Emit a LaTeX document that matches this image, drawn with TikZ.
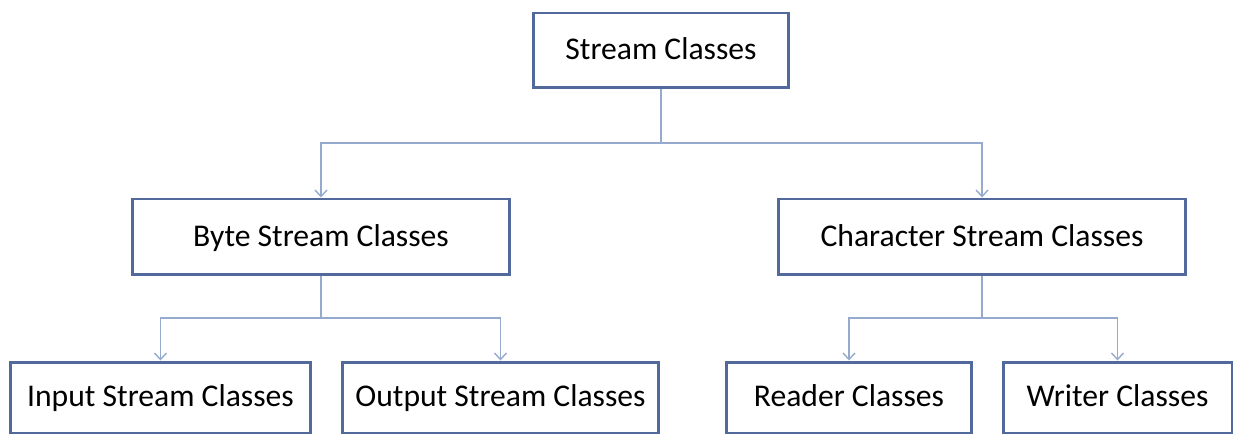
\documentclass[tikz,border=0pt]{standalone}
\usepackage{fontspec}
\setmainfont{Carlito}
\usetikzlibrary{arrows.meta}

\definecolor{boxline}{RGB}{82,106,155}
\definecolor{linkline}{RGB}{150,170,205}

\begin{document}
\begin{tikzpicture}[x=0.02cm,y=-0.02cm, semithick]
		 \tikzstyle{every node}=[draw=boxline,line width=1.7pt,fill=white,inner sep=0pt,text height=1.05em,text depth=0pt,font=\fontsize{18}{22}\selectfont]
		 \tikzstyle{link}=[draw=linkline,line width=0.8pt]
		 \tikzstyle{arr}=[link,-{Straight Barb[length=1.3mm,width=2.4mm]}]

		  \useasboundingbox (0,0) rectangle (1236,435);

		  \node (stream) [minimum width=5.12cm,minimum height=1.5cm] at (661,50.5) {Stream Classes};

		  \node (byte) [minimum width=7.56cm,minimum height=1.52cm] at (321,237) {Byte Stream Classes};
		  \node (char) [minimum width=8.14cm,minimum height=1.52cm] at (982,237) {Character Stream Classes};

		  \node (input)  [minimum width=6.02cm,minimum height=1.42cm] at (160.5,397.5) {Input Stream Classes};
		  \node (output) [minimum width=6.34cm,minimum height=1.42cm] at (500.5,397.5) {Output Stream Classes};
		  \node (reader) [minimum width=4.92cm,minimum height=1.42cm] at (849,397.5) {Reader Classes};
		  \node (writer) [minimum width=4.58cm,minimum height=1.42cm] at (1117.5,397.5) {Writer Classes};

		  \coordinate (j1) at (661,143);
		  \coordinate (j2) at (321,318);
		  \coordinate (j3) at (982,318);

		  \path[link] (stream.south) -- (j1);
		  \path[arr] (j1) -| (byte.north);
		  \path[arr] (j1) -| (char.north);

		  \path[link] (byte.south) -- (j2);
		  \path[arr] (j2) -| (input.north);
		  \path[arr] (j2) -| (output.north);

		  \path[link] (char.south) -- (j3);
		  \path[arr] (j3) -| (reader.north);
		  \path[arr] (j3) -| (writer.north);

		\end{tikzpicture}
\end{document}
